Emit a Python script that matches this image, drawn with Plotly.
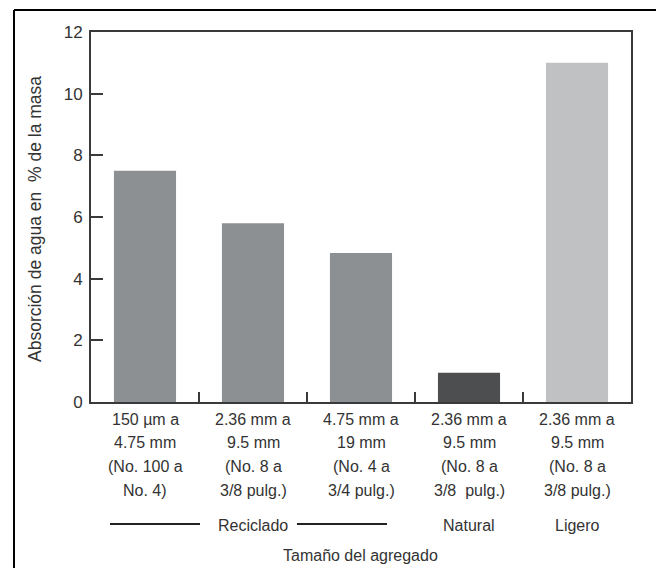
import plotly.graph_objects as go

# ---- data ----
cat_pos = [0, 1, 2, 3, 4]
cat_labels = [
    ["150 µm a", "4.75 mm", "(No. 100 a", "No. 4)"],
    ["2.36 mm a", "9.5 mm", "(No. 8 a", "3/8 pulg.)"],
    ["4.75 mm a", "19 mm", "(No. 4 a", "3/4 pulg.)"],
    ["2.36 mm a", "9.5 mm", "(No. 8 a", "3/8  pulg.)"],
    ["2.36 mm a", "9.5 mm", "(No. 8 a", "3/8 pulg.)"],
]
absorption = [7.5, 5.8, 4.83, 0.95, 11.0]
bar_colors = ["#8d9092", "#8d9092", "#8d9092", "#4d4e50", "#c0c1c2"]
groups = ["Reciclado", "Natural", "Ligero"]
group_pos = [1, 3, 4]
y_ticks = [0, 2, 4, 6, 8, 10, 12]

TXT = "#333333"
FONT = "Liberation Sans, Arial, sans-serif"
AX = "#3a3a3a"

fig = go.Figure()
fig.add_trace(go.Bar(
    x=cat_pos, y=absorption, width=0.575,
    marker=dict(color=bar_colors, line=dict(width=0)),
    showlegend=False,
))

W, H = 656, 568
L, R, T, B = 91, 25, 32, 166
pw, ph = W - L - R, H - T - B

def py(pix):
    return (H - B - pix) / ph

def px(pix):
    return (pix - L) / pw

ann = []
line_y = [419, 442.5, 466.5, 490]
for xi, lines in zip(cat_pos, cat_labels):
    for k, t in enumerate(lines):
        ann.append(dict(x=xi, y=py(line_y[k]), xref="x", yref="paper",
                        text=t, showarrow=False, xanchor="center", yanchor="middle",
                        font=dict(size=16, color=TXT, family=FONT)))
for g, xg in zip(groups, group_pos):
    ann.append(dict(x=xg, y=py(525), xref="x", yref="paper", text=g,
                    showarrow=False, xanchor="center", yanchor="middle",
                    font=dict(size=16, color=TXT, family=FONT)))
ann.append(dict(x=px(360), y=py(555), xref="paper", yref="paper",
                text="Tamaño del agregado", showarrow=False,
                xanchor="center", yanchor="middle",
                font=dict(size=16, color=TXT, family=FONT)))
ann.append(dict(x=px(35), y=py(219), xref="paper", yref="paper",
                text="Absorción de agua en \u00a0% de la masa", textangle=-90,
                showarrow=False, xanchor="center", yanchor="middle",
                font=dict(size=17.5, color=TXT, family=FONT)))

shapes = [
    # outer frame
    dict(type="line", xref="paper", yref="paper", x0=px(14), x1=px(660),
         y0=py(10), y1=py(10), line=dict(color="#000000", width=2)),
    dict(type="line", xref="paper", yref="paper", x0=px(14), x1=px(14),
         y0=py(10), y1=py(572), line=dict(color="#000000", width=2)),
    # Reciclado bracket lines
    dict(type="line", xref="x", yref="paper", x0=-0.324, x1=0.509,
         y0=py(524), y1=py(524), line=dict(color="#222222", width=2)),
    dict(type="line", xref="x", yref="paper", x0=1.407, x1=2.241,
         y0=py(524), y1=py(524), line=dict(color="#222222", width=2)),
]

fig.update_layout(
    width=W, height=H,
    margin=dict(l=L, r=R, t=T, b=B, pad=0),
    paper_bgcolor="white", plot_bgcolor="white",
    font=dict(family=FONT, color=TXT),
    annotations=ann, shapes=shapes,
    xaxis=dict(range=[-0.5, 4.5], tickmode="array", tickvals=[0.5, 1.5, 2.5, 3.5],
               ticktext=["", "", "", ""], ticks="inside", ticklen=10, tickwidth=2,
               tickcolor=AX, showline=True, linecolor=AX, linewidth=2, mirror=True,
               showgrid=False, zeroline=False, fixedrange=True),
    yaxis=dict(range=[0, 12], tickmode="array", tickvals=y_ticks,
               ticktext=[str(v) for v in y_ticks], ticks="inside", ticklen=12,
               tickwidth=2, tickcolor=AX, showline=True, linecolor=AX, linewidth=2,
               mirror=True, showgrid=False, zeroline=False,
               tickfont=dict(size=17, color=TXT, family=FONT), ticklabelstandoff=3),
)

fig.write_html("out.html")
